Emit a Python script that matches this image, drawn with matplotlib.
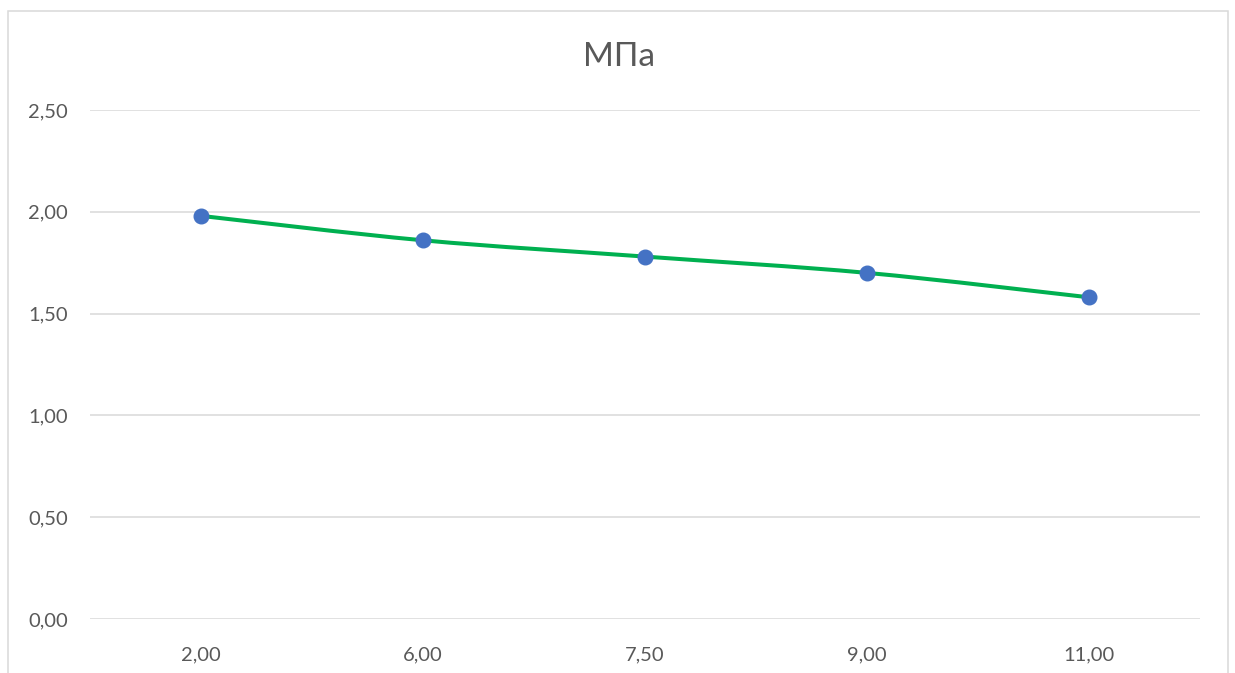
import matplotlib
matplotlib.use("Agg")
import matplotlib.pyplot as plt
from matplotlib.path import Path
from matplotlib.patches import PathPatch, Rectangle
from matplotlib.ticker import FixedLocator, FuncFormatter

plt.rcParams['font.family'] = ['Lato', 'DejaVu Sans']

# Data
categories = ["2,00", "6,00", "7,50", "9,00", "11,00"]
values = [1.98, 1.86, 1.78, 1.70, 1.58]
title = "МПа"

fig = plt.figure(figsize=(12.35, 6.73), dpi=100)
ax = fig.add_axes([90 / 1235, 1 - 619 / 673, 1110 / 1235, 509 / 673])

x = list(range(len(categories)))

# Smoothed line (Catmull-Rom style Bezier segments through the data points)
verts = [(x[0], values[0])]
codes = [Path.MOVETO]
n = len(x)
for i in range(n - 1):
    p0 = (x[max(i - 1, 0)], values[max(i - 1, 0)])
    p1 = (x[i], values[i])
    p2 = (x[i + 1], values[i + 1])
    p3 = (x[min(i + 2, n - 1)], values[min(i + 2, n - 1)])
    c1 = (p1[0] + (p2[0] - p0[0]) / 6, p1[1] + (p2[1] - p0[1]) / 6)
    c2 = (p2[0] - (p3[0] - p1[0]) / 6, p2[1] - (p3[1] - p1[1]) / 6)
    verts += [c1, c2, p2]
    codes += [Path.CURVE4] * 3
ax.add_patch(PathPatch(Path(verts, codes), facecolor='none', edgecolor='#00B050',
                       lw=2.9, capstyle='round', joinstyle='round', zorder=3))
ax.plot(x, values, linestyle='none', marker='o', markersize=10.5,
        markerfacecolor='#4472C4', markeredgecolor='#4472C4', zorder=4)

ax.set_xlim(-0.5, len(categories) - 0.5)
ax.set_ylim(0, 2.5)
ax.yaxis.set_major_locator(FixedLocator([0, 0.5, 1.0, 1.5, 2.0, 2.5]))
ax.yaxis.set_major_formatter(FuncFormatter(lambda v, p: f"{v:.2f}".replace('.', ',')))
ax.set_xticks(x)
ax.set_xticklabels(categories)

ax.grid(axis='y', color='#d9d9d9', lw=1.1)
ax.set_axisbelow(True)
for s in ax.spines.values():
    s.set_visible(False)
ax.tick_params(axis='both', length=0, labelsize=14.5, colors='#595959')
ax.tick_params(axis='y', pad=16)
ax.tick_params(axis='x', pad=20)

fig.text(619 / 1235, 1 - 57 / 673, title, ha='center', va='center',
         fontsize=24, color='#595959')

# Chart frame
fig.patches.append(Rectangle((8 / 1235, -0.05), 1220 / 1235, 1.05 - 11 / 673,
                             transform=fig.transFigure, fill=False,
                             edgecolor='#d9d9d9', lw=1.1))

fig.savefig("out.png", dpi=100, facecolor='white')
